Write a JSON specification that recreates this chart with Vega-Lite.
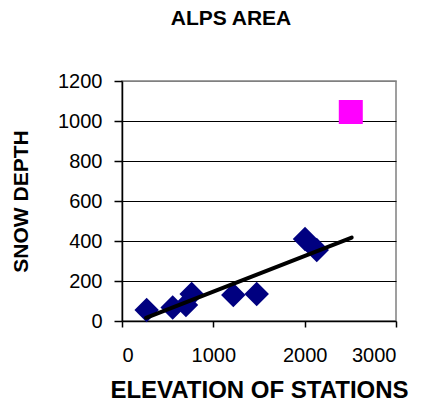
{
  "$schema": "https://vega.github.io/schema/vega-lite/v6.json",
  "autosize": "none",
  "width": 274,
  "height": 240,
  "padding": {"left": 122, "top": 81, "right": 26, "bottom": 83},
  "background": "white",
  "config": {
    "font": "Liberation Sans",
    "view": {"stroke": "#808080", "strokeWidth": 1.5},
    "axis": {"labelFont": "Liberation Sans", "titleFont": "Liberation Sans", "labelColor": "black", "titleColor": "black", "domainColor": "black", "tickColor": "black", "domainWidth": 1.5, "tickWidth": 1.5, "labelOverlap": false, "format": "d"}
  },
  "title": {"text": "ALPS AREA", "font": "Liberation Sans", "fontSize": 21, "fontWeight": "bold", "color": "black", "anchor": "middle", "frame": "group", "dx": -28, "offset": 42},
  "datasets": {
    "stations": [
      {"elevation": 270, "depth": 55},
      {"elevation": 555, "depth": 68},
      {"elevation": 700, "depth": 80},
      {"elevation": 763, "depth": 135},
      {"elevation": 1219, "depth": 130},
      {"elevation": 1475, "depth": 135},
      {"elevation": 2004, "depth": 410},
      {"elevation": 2132, "depth": 355}
    ],
    "outlier": [
      {"elevation": 2505, "depth": 1045}
    ],
    "trend": [
      {"elevation": 263, "depth": 16},
      {"elevation": 2515, "depth": 417}
    ]
  },
  "encoding": {
    "x": {"field": "elevation", "type": "quantitative", "scale": {"domain": [0, 3000], "nice": false},
      "axis": {"values": [0, 1000, 2000, 3000], "grid": false, "tickSize": 6, "labelFontSize": 20, "labelBaseline": "alphabetic", "labelPadding": 34, "title": "ELEVATION OF STATIONS", "titleFontSize": 24, "titleFontWeight": "bold", "titleBaseline": "alphabetic", "titleY": 76, "titleX": 137}},
    "y": {"field": "depth", "type": "quantitative", "scale": {"domain": [0, 1200], "nice": false},
      "axis": {"values": [0, 200, 400, 600, 800, 1000, 1200], "grid": true, "gridColor": {"condition": {"test": "datum.value == 1200 || datum.value == 0", "value": "#808080"}, "value": "black"}, "gridWidth": 1.2, "tickSize": 8, "labelFontSize": 20, "labelPadding": 12, "title": "SNOW DEPTH", "titleFontSize": 21, "titleFontWeight": "bold", "titleBaseline": "alphabetic", "titleX": -95, "titleY": 120, "titleAngle": 270}}
  },
  "layer": [
    {
      "data": {"name": "stations"},
      "mark": {"type": "point", "shape": "diamond", "filled": true, "color": "#000080", "size": 600, "opacity": 1}
    },
    {
      "data": {"name": "outlier"},
      "mark": {"type": "point", "shape": "square", "filled": true, "color": "#FF00FF", "size": 576, "opacity": 1}
    },
    {
      "data": {"name": "trend"},
      "mark": {"type": "line", "color": "black", "strokeWidth": 4, "strokeCap": "round"}
    }
  ]
}
